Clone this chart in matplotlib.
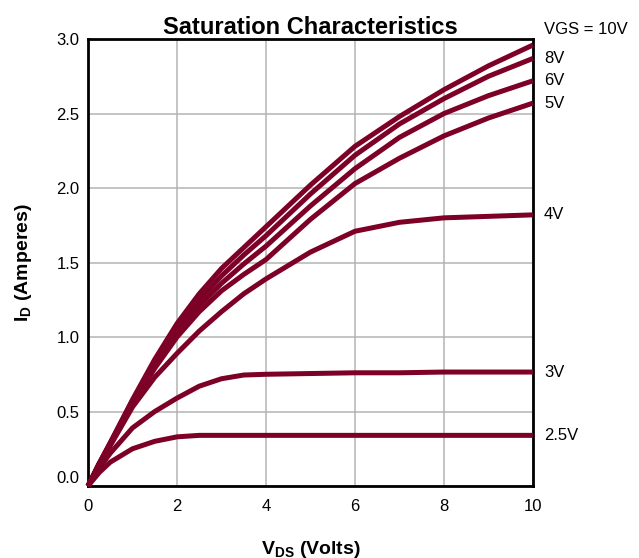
import matplotlib.pyplot as plt

plt.rcParams['font.family'] = ['Liberation Sans', 'DejaVu Sans']
plt.rcParams['mathtext.fontset'] = 'custom'
plt.rcParams['mathtext.rm'] = 'Liberation Sans'
plt.rcParams['mathtext.bf'] = 'Liberation Sans:bold'

# drain-source voltage (V)
vds = [0, 0.25, 0.5, 1, 1.5, 2, 2.5, 3, 3.5, 4, 5, 6, 7, 8, 9, 10]

# drain current (A) per gate voltage
id_10v = [0, 0.15, 0.29, 0.58, 0.85, 1.09, 1.29, 1.46, 1.60, 1.74, 2.02, 2.28, 2.48, 2.66, 2.82, 2.96]
id_8v = [0, 0.15, 0.29, 0.57, 0.83, 1.06, 1.25, 1.41, 1.55, 1.68, 1.96, 2.22, 2.43, 2.60, 2.75, 2.87]
id_6v = [0, 0.15, 0.28, 0.56, 0.81, 1.03, 1.21, 1.36, 1.49, 1.61, 1.88, 2.13, 2.34, 2.50, 2.62, 2.72]
id_5v = [0, 0.14, 0.28, 0.55, 0.79, 1.00, 1.17, 1.31, 1.42, 1.52, 1.79, 2.03, 2.20, 2.35, 2.47, 2.57]
id_4v = [0, 0.14, 0.27, 0.53, 0.73, 0.89, 1.04, 1.17, 1.29, 1.39, 1.57, 1.71, 1.77, 1.80, 1.81, 1.82]
id_3v = [0, 0.12, 0.22, 0.39, 0.50, 0.59, 0.67, 0.72, 0.745, 0.75, 0.755, 0.76, 0.76, 0.765, 0.765, 0.765]
id_25v = [0, 0.09, 0.16, 0.25, 0.30, 0.33, 0.34, 0.34, 0.34, 0.34, 0.34, 0.34, 0.34, 0.34, 0.34, 0.34]

curves = [id_10v, id_8v, id_6v, id_5v, id_4v, id_3v, id_25v]
labels = ['VGS = 10V', '8V', '6V', '5V', '4V', '3V', '2.5V']

fig = plt.figure(figsize=(6.39, 5.58), dpi=100)
ax = fig.add_axes([0.1377, 0.129, 0.6963, 0.801])

line_color = '#7d0026'
for ids, lab in zip(curves, labels):
    ax.plot(vds, ids, color=line_color, linewidth=3.6, solid_capstyle='butt',
            solid_joinstyle='round', clip_on=False, zorder=3)
    dy = 11 if lab.startswith('VGS') else 0
    ax.annotate(lab, xy=(vds[-1], ids[-1]), xytext=(8, dy), textcoords='offset points',
                va='center', ha='left', fontsize=12, annotation_clip=False)

ax.set_xlim(0, 10)
ax.set_ylim(0, 3.0)
ax.set_xticks([0, 2, 4, 6, 8, 10])
ax.set_yticks([0, 0.5, 1.0, 1.5, 2.0, 2.5, 3.0])
ax.set_yticklabels(['0.0', '0.5', '1.0', '1.5', '2.0', '2.5', '3.0'])
ax.tick_params(length=0, labelsize=12)
ax.tick_params(axis='x', pad=9)
ax.tick_params(axis='y', pad=6)
ax.get_yticklabels()[0].set_va('bottom')

ax.grid(True, color='#b4b4b4', linewidth=1.1)
ax.set_axisbelow(True)
for sp in ax.spines.values():
    sp.set_linewidth(2.0)
    sp.set_color('black')

ax.set_title('Saturation Characteristics', fontsize=17, fontweight='bold', pad=4)
ax.set_xlabel(r'$\mathbf{V_{DS}}$ (Volts)', fontsize=14, fontweight='bold', labelpad=18)
ax.set_ylabel(r'$\mathbf{I_{D}}$ (Amperes)', fontsize=14, fontweight='bold', labelpad=16)

fig.savefig('out.png', dpi=100)
